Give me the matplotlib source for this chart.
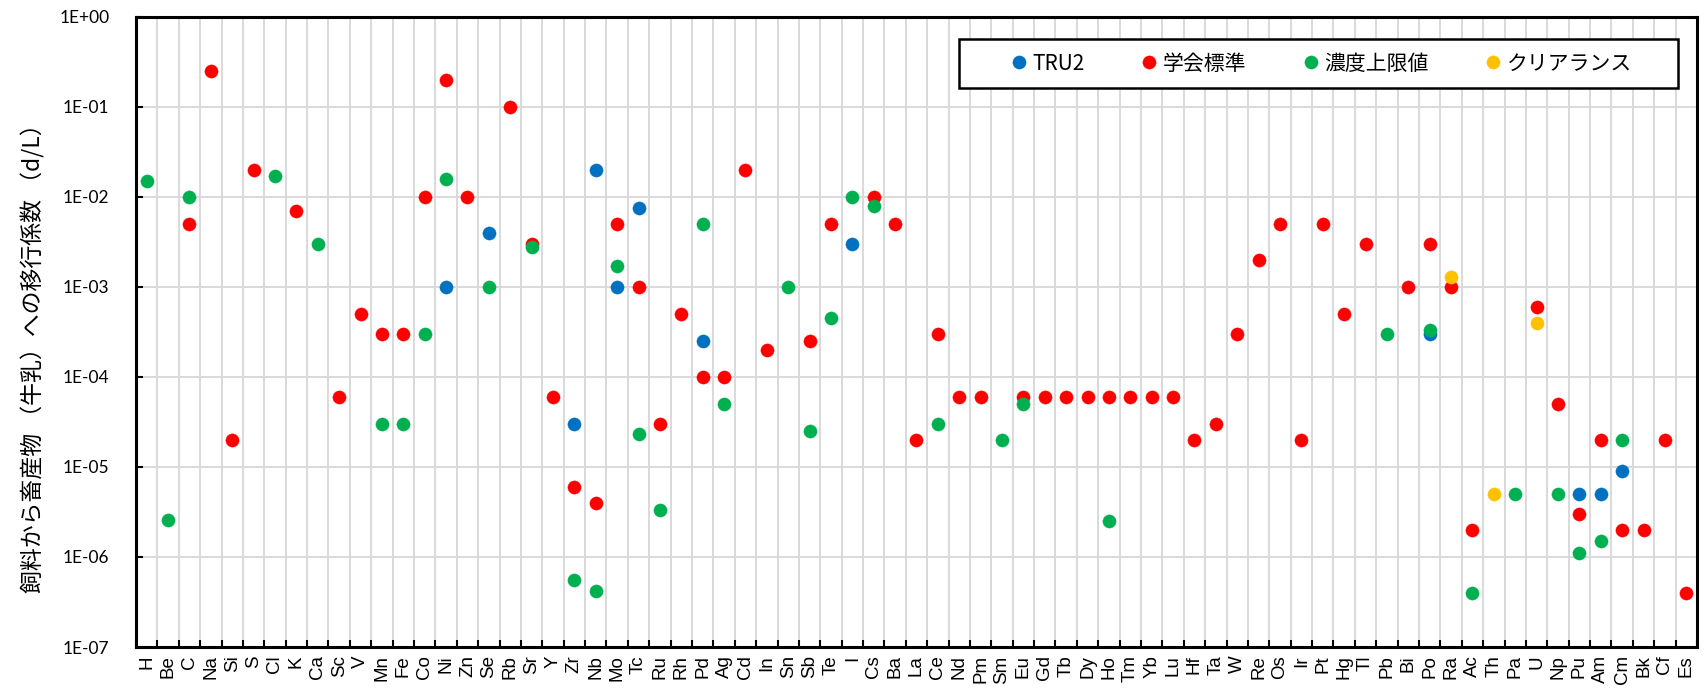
import matplotlib
matplotlib.use("Agg")
import matplotlib.pyplot as plt
from matplotlib.patches import Rectangle
from matplotlib.ticker import FixedLocator, NullFormatter
import numpy as np

elements = ['H', 'Be', 'C', 'Na', 'Si', 'S', 'Cl', 'K', 'Ca', 'Sc', 'V', 'Mn', 'Fe', 'Co',
            'Ni', 'Zn', 'Se', 'Rb', 'Sr', 'Y', 'Zr', 'Nb', 'Mo', 'Tc', 'Ru', 'Rh', 'Pd', 'Ag',
            'Cd', 'In', 'Sn', 'Sb', 'Te', 'I', 'Cs', 'Ba', 'La', 'Ce', 'Nd', 'Pm', 'Sm', 'Eu',
            'Gd', 'Tb', 'Dy', 'Ho', 'Tm', 'Yb', 'Lu', 'Hf', 'Ta', 'W', 'Re', 'Os', 'Ir', 'Pt',
            'Hg', 'Tl', 'Pb', 'Bi', 'Po', 'Ra', 'Ac', 'Th', 'Pa', 'U', 'Np', 'Pu', 'Am', 'Cm',
            'Bk', 'Cf', 'Es']

# TRU2
tru2 = {'Ni': 1e-3, 'Se': 4e-3, 'Zr': 3e-5, 'Nb': 2e-2, 'Mo': 1e-3, 'Tc': 7.5e-3,
        'Pd': 2.5e-4, 'I': 3e-3, 'Po': 3e-4, 'Pu': 5e-6, 'Am': 5e-6, 'Cm': 9e-6}

# 学会標準
gakkai = {'C': 5e-3, 'Na': 0.25, 'Si': 2e-5, 'S': 2e-2, 'K': 7e-3, 'Sc': 6e-5, 'V': 5e-4,
          'Mn': 3e-4, 'Fe': 3e-4, 'Co': 1e-2, 'Ni': 0.2, 'Zn': 1e-2, 'Rb': 0.1, 'Sr': 3e-3,
          'Y': 6e-5, 'Zr': 6e-6, 'Nb': 4e-6, 'Mo': 5e-3, 'Tc': 1e-3, 'Ru': 3e-5, 'Rh': 5e-4,
          'Pd': 1e-4, 'Ag': 1e-4, 'Cd': 2e-2, 'In': 2e-4, 'Sb': 2.5e-4, 'Te': 5e-3,
          'Cs': 1e-2, 'Ba': 5e-3, 'La': 2e-5, 'Ce': 3e-4, 'Nd': 6e-5, 'Pm': 6e-5,
          'Eu': 6e-5, 'Gd': 6e-5, 'Tb': 6e-5, 'Dy': 6e-5, 'Ho': 6e-5, 'Tm': 6e-5,
          'Yb': 6e-5, 'Lu': 6e-5, 'Hf': 2e-5, 'Ta': 3e-5, 'W': 3e-4, 'Re': 2e-3, 'Os': 5e-3,
          'Ir': 2e-5, 'Pt': 5e-3, 'Hg': 5e-4, 'Tl': 3e-3, 'Bi': 1e-3, 'Po': 3e-3, 'Ra': 1e-3,
          'Ac': 2e-6, 'U': 6e-4, 'Np': 5e-5, 'Pu': 3e-6, 'Am': 2e-5, 'Cm': 2e-6, 'Bk': 2e-6,
          'Cf': 2e-5, 'Es': 4e-7}

# 濃度上限値
jougen = {'H': 1.5e-2, 'Be': 2.6e-6, 'C': 1e-2, 'Cl': 1.7e-2, 'Ca': 3e-3, 'Mn': 3e-5,
          'Fe': 3e-5, 'Co': 3e-4, 'Ni': 1.6e-2, 'Se': 1e-3, 'Sr': 2.8e-3, 'Zr': 5.5e-7,
          'Nb': 4.2e-7, 'Mo': 1.7e-3, 'Tc': 2.3e-5, 'Ru': 3.3e-6, 'Pd': 5e-3, 'Ag': 5e-5,
          'Sn': 1e-3, 'Sb': 2.5e-5, 'Te': 4.5e-4, 'I': 1e-2, 'Cs': 8e-3, 'Ce': 3e-5,
          'Sm': 2e-5, 'Eu': 5e-5, 'Ho': 2.5e-6, 'Pb': 3e-4, 'Po': 3.3e-4, 'Ac': 4e-7,
          'Pa': 5e-6, 'Np': 5e-6, 'Pu': 1.1e-6, 'Am': 1.5e-6, 'Cm': 2e-5}

# クリアランス
clearance = {'Ra': 1.3e-3, 'Th': 5e-6, 'U': 4e-4}

series = [('TRU2', tru2, '#0070C0'),
          ('学会標準', gakkai, '#FF0000'),
          ('濃度上限値', jougen, '#00B050'),
          ('クリアランス', clearance, '#FFC000')]

yticks = [1e-7, 1e-6, 1e-5, 1e-4, 1e-3, 1e-2, 1e-1, 1e0]
ytick_labels = ['1E-07', '1E-06', '1E-05', '1E-04', '1E-03', '1E-02', '1E-01', '1E+00']

jp = ['Noto Sans CJK JP', 'DejaVu Sans']

fig = plt.figure(figsize=(17.04, 6.96), dpi=100)
ax = fig.add_axes([0.0798, 0.0704, 0.9161, 0.9053])

xpos = np.arange(len(elements))
for name, data, color in series:
    xs = [elements.index(k) for k in data]
    ys = list(data.values())
    ax.plot(xs, ys, 'o', color=color, markersize=9.5, markeredgewidth=0.3,
            markeredgecolor=color, label=name, zorder=3)

ax.set_yscale('log')
ax.set_ylim(1e-7, 1)
ax.set_xlim(-0.5, len(elements) - 0.5)

ax.yaxis.set_major_locator(FixedLocator(yticks))
ax.yaxis.set_minor_locator(FixedLocator([]))
ax.set_yticklabels(ytick_labels, family='Lato', fontsize=12.5)
ax.tick_params(axis='y', direction='in', length=5, width=1.5, pad=19)

ax.set_xticks(xpos)
ax.set_xticklabels(elements, rotation=90, family='Liberation Sans', fontsize=13.5)
ax.xaxis.set_minor_locator(FixedLocator(np.arange(len(elements) + 1) - 0.5))
ax.xaxis.set_minor_formatter(NullFormatter())
ax.tick_params(axis='x', which='major', length=0, pad=6)
ax.tick_params(axis='x', which='minor', direction='in', length=5, width=1.5)

ax.grid(True, axis='y', which='major', color='#D9D9D9', linewidth=1.4, zorder=0)
ax.grid(True, axis='x', which='minor', color='#D9D9D9', linewidth=1.4, zorder=0)
ax.set_axisbelow(True)
for s in ax.spines.values():
    s.set_linewidth(2.2)
    s.set_color('black')

ax.set_ylabel('飼料から畜産物 （牛乳）への移行係数 （d/L）', family=jp, fontsize=16.5)
ax.yaxis.set_label_coords(-0.058, 0.467)

# legend box drawn separately so its padding matches the original
ax.add_patch(Rectangle((0.5272, 0.8873), 0.4606, 0.0778, transform=ax.transAxes,
                       facecolor='white', edgecolor='black', linewidth=1.8, zorder=4))
leg = ax.legend(loc='center', bbox_to_anchor=(0.7598, 0.926), ncol=4, frameon=False,
                handlelength=0.6, handletextpad=0.35, columnspacing=2.8,
                prop={'family': jp, 'size': 15})
leg.set_zorder(5)

fig.savefig('out.png', dpi=100)
